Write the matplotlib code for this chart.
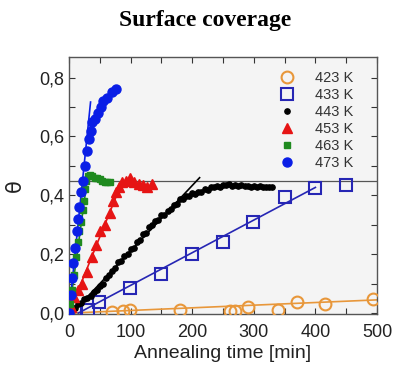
import matplotlib
matplotlib.use("Agg")
import matplotlib.pyplot as plt

# ---------------- data ----------------
t423 = [69, 88, 99, 180, 261, 269, 291, 340, 370, 416, 494]
y423 = [0.004, 0.008, 0.010, 0.010, 0.008, 0.008, 0.021, 0.012, 0.038, 0.030, 0.047]

t433 = [10, 31, 49, 99, 150, 200, 250, 299, 351, 399, 450]
y433 = [0.004, 0.010, 0.038, 0.087, 0.134, 0.200, 0.240, 0.310, 0.395, 0.426, 0.434]

t443 = [5, 10, 15, 20, 25, 30, 35, 40, 45, 50, 55, 60, 65, 70, 75, 80, 85, 90, 95,
        100, 105, 110, 115, 120, 125, 130, 135, 140, 145, 150, 155, 160, 165, 170,
        175, 180, 185, 190, 195, 200, 205, 210, 215, 220, 225, 230, 235, 240, 245,
        250, 255, 260, 265, 270, 275, 280, 285, 290, 295, 300, 305, 310, 315, 320,
        325, 330]
y443 = [0.010, 0.018, 0.030, 0.033, 0.047, 0.052, 0.058, 0.072, 0.078, 0.092, 0.100,
        0.118, 0.128, 0.143, 0.152, 0.172, 0.178, 0.193, 0.202, 0.218, 0.222, 0.243,
        0.248, 0.268, 0.272, 0.293, 0.298, 0.313, 0.318, 0.333, 0.332, 0.348, 0.352,
        0.368, 0.372, 0.388, 0.386, 0.397, 0.398, 0.407, 0.406, 0.413, 0.412, 0.421,
        0.418, 0.427, 0.428, 0.432, 0.430, 0.436, 0.434, 0.437, 0.433, 0.435, 0.432,
        0.434, 0.431, 0.433, 0.430, 0.432, 0.429, 0.431, 0.428, 0.430, 0.427, 0.427]

t453 = [3, 8, 14, 21, 29, 37, 44, 51, 58, 66, 72, 77, 81, 86, 92, 99, 106, 113, 120, 127, 134]
y453 = [0.02, 0.055, 0.08, 0.10, 0.14, 0.19, 0.23, 0.28, 0.30, 0.34, 0.38, 0.41, 0.43,
        0.445, 0.45, 0.46, 0.445, 0.44, 0.435, 0.43, 0.44]

t463 = [2, 5, 8, 11, 14, 17, 20, 22, 24, 26, 28, 31, 34, 38, 42, 46, 50, 54, 58, 62, 66]
y463 = [0.03, 0.08, 0.13, 0.19, 0.24, 0.28, 0.31, 0.35, 0.38, 0.42, 0.45, 0.465, 0.47,
        0.465, 0.46, 0.46, 0.455, 0.45, 0.445, 0.445, 0.445]

t473 = [0, 3, 5, 7, 10, 13, 15, 17, 20, 23, 26, 29, 32, 35, 38, 42, 47, 52, 56, 62, 70, 77]
y473 = [0.0, 0.06, 0.12, 0.17, 0.22, 0.28, 0.32, 0.36, 0.41, 0.45, 0.50, 0.55, 0.59,
        0.62, 0.65, 0.66, 0.68, 0.70, 0.72, 0.73, 0.75, 0.76]

# linear fits (start/end points)
fit423_t, fit423_y = [0, 500], [0.0, 0.045]
fit433_t, fit433_y = [15, 400], [0.0, 0.427]
fit443_t, fit443_y = [5, 212], [0.0, 0.46]
fit453_t, fit453_y = [0, 86], [0.0, 0.445]
fit463_t, fit463_y = [0, 30], [0.0, 0.46]
fit473_t, fit473_y = [0, 35], [0.0, 0.717]

theta_sat = 0.45
labels = ["423 K", "433 K", "443 K", "453 K", "463 K", "473 K"]
xticks = [0, 100, 200, 300, 400, 500]
yticks = [0.0, 0.2, 0.4, 0.6, 0.8]
ytick_labels = ["0,0", "0,2", "0,4", "0,6", "0,8"]

# ---------------- figure ----------------
c_or = "#E8973A"
c_b2 = "#2626B4"
c_red = "#E61414"
c_gr = "#1F8A1F"
c_b1 = "#0A1EE6"

fig = plt.figure(figsize=(3.94, 3.69), dpi=100)
ax = fig.add_axes([69/394, 1-314/369, (377-69)/394, (314-57)/369])
ax.set_facecolor("#F4F4F4")

ax.axhline(theta_sat, color="#555555", lw=0.9, zorder=1)

ax.plot(fit423_t, fit423_y, color=c_or, lw=1.2, zorder=2)
ax.plot(fit433_t, fit433_y, color=c_b2, lw=1.2, zorder=2)
ax.plot(fit443_t, fit443_y, color="black", lw=1.2, zorder=2)
ax.plot(fit453_t, fit453_y, color=c_red, lw=1.2, zorder=2)
ax.plot(fit463_t, fit463_y, color=c_gr, lw=1.2, zorder=2)
ax.plot(fit473_t, fit473_y, color=c_b1, lw=1.2, zorder=2)

ax.plot(t423, y423, ls="none", marker="o", ms=8.5, mfc="none", mec=c_or, mew=1.5,
        label=labels[0], zorder=3)
ax.plot(t433, y433, ls="none", marker="s", ms=8, mfc="none", mec=c_b2, mew=1.5,
        label=labels[1], zorder=3)
ax.plot(t443, y443, ls="none", marker="o", ms=3.8, mfc="black", mec="black",
        label=labels[2], zorder=3)
ax.plot(t453, y453, ls="none", marker="^", ms=6.5, mfc=c_red, mec=c_red,
        label=labels[3], zorder=3)
ax.plot(t463, y463, ls="none", marker="s", ms=5, mfc=c_gr, mec=c_gr,
        label=labels[4], zorder=3)
ax.plot(t473, y473, ls="none", marker="o", ms=6.5, mfc=c_b1, mec=c_b1,
        label=labels[5], zorder=4)

ax.set_xlim(0, 500)
ax.set_ylim(-0.003, 0.87)
ax.set_xticks(xticks)
ax.set_xticks([50, 150, 250, 350, 450], minor=True)
ax.set_yticks(yticks)
ax.set_yticklabels(ytick_labels)
ax.set_yticks([0.1, 0.3, 0.5, 0.7], minor=True)
ax.tick_params(which="both", direction="in", top=True, right=True,
               labelsize=13, colors="#333333", labelcolor="#222222")
ax.tick_params(axis="x", which="major", pad=7)
ax.tick_params(which="major", length=4, width=0.8)
ax.tick_params(which="minor", length=4, width=0.8)
for sp in ax.spines.values():
    sp.set_color("#555555")
    sp.set_linewidth(1.0)

for lab in ax.get_xticklabels() + ax.get_yticklabels():
    lab.set_family("Liberation Sans")

ax.set_xlabel("Annealing time [min]", fontsize=14, family="Liberation Sans",
              color="#222222", labelpad=3)
ax.set_ylabel("θ", fontsize=15, family="DejaVu Sans", color="#222222", labelpad=10)

leg = ax.legend(loc="upper right", bbox_to_anchor=(0.955, 0.985), frameon=False,
                prop={"family": "Liberation Sans", "size": 10.5},
                labelspacing=0.2, handletextpad=0.9, borderaxespad=0.3,
                handlelength=2.0)
for t in leg.get_texts():
    t.set_color("#333333")

fig.text(0.52, 0.945, "Surface coverage", ha="center", va="center",
         fontsize=17, fontweight="bold", family="Liberation Serif")

fig.savefig("out.png", dpi=100)
